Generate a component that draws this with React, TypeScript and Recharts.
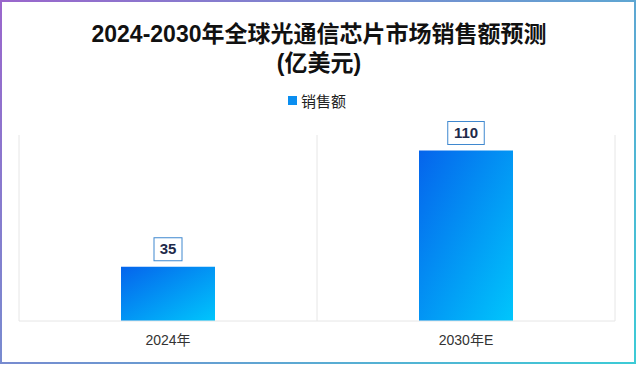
import { Bar, BarChart, CartesianGrid, LabelList, Legend, XAxis, YAxis } from 'recharts';

const categories = ['2024年', '2030年E'];
const sales = [35, 110];

const data = categories.map((name, i) => ({ name, sales: sales[i] }));

const FONT = '"Liberation Sans", "Noto Sans CJK SC", Arial, sans-serif';

const BoxLabel = (props: any) => {
  const { x, y, width, value } = props;
  const text = String(value);
  const w = text.length * 8.5 + 11;
  const h = 23;
  const cx = x + width / 2;
  const top = y - 6 - h;
  return (
    <g>
      <rect x={cx - w / 2} y={top} width={w} height={h} fill="#fff" stroke="#3f88cf" strokeWidth={1} />
      <text
        x={cx}
        y={top + h / 2 + 1}
        textAnchor="middle"
        dominantBaseline="middle"
        fill="#1e2a4a"
        fontSize={15}
        fontWeight="bold"
        fontFamily={FONT}
      >
        {text}
      </text>
    </g>
  );
};

const LegendContent = () => (
  <div style={{ display: 'flex', justifyContent: 'center', alignItems: 'center', fontFamily: FONT }}>
    <span style={{ width: 9, height: 9, background: '#0a8ef0', marginRight: 4 }} />
    <span style={{ fontSize: 15, color: '#222' }}>销售额</span>
  </div>
);

export default function App() {
  return (
    <div
      style={{
        position: 'absolute',
        left: 0,
        top: 0,
        width: 636,
        height: 364,
        boxSizing: 'border-box',
        padding: 2,
        background: 'linear-gradient(135deg, #9a66cc, #3ccbd6)',
      }}
    >
      <div style={{ position: 'relative', width: '100%', height: '100%', background: '#fff' }}>
        <div
          style={{
            position: 'absolute',
            left: 0,
            top: 18,
            width: 634,
            textAlign: 'center',
            fontFamily: FONT,
            fontWeight: 'bold',
            fontSize: 23,
            lineHeight: '29px',
            color: '#111',
          }}
        >
          2024-2030年全球光通信芯片市场销售额预测
          <br />
          (亿美元)
        </div>
        <div style={{ position: 'absolute', left: -2, top: -2 }}>
          <BarChart
            width={637}
            height={365}
            data={data}
            margin={{ top: 114, right: 22, bottom: 14, left: 19 }}
          >
            <defs>
              <linearGradient id="barGrad" x1="0" y1="0" x2="1" y2="1">
                <stop offset="0%" stopColor="#0564ec" />
                <stop offset="100%" stopColor="#00c6fc" />
              </linearGradient>
            </defs>
            <CartesianGrid
              horizontal={false}
              stroke="#e6e6e6"
              verticalCoordinatesGenerator={({ offset }: any) => [
                offset.left,
                offset.left + offset.width / 2,
                offset.left + offset.width,
              ]}
            />
            <XAxis
              dataKey="name"
              axisLine={{ stroke: '#e6e6e6' }}
              tickLine={false}
              tickMargin={8}
              tick={{ fill: '#333', fontSize: 14, fontFamily: FONT }}
            />
            <YAxis hide domain={[0, 120]} />
            <Legend verticalAlign="top" content={<LegendContent />} wrapperStyle={{ top: 90 }} />
            <Bar dataKey="sales" name="销售额" fill="url(#barGrad)" barSize={94} isAnimationActive={false}>
              <LabelList dataKey="sales" content={<BoxLabel />} />
            </Bar>
          </BarChart>
        </div>
      </div>
    </div>
  );
}
